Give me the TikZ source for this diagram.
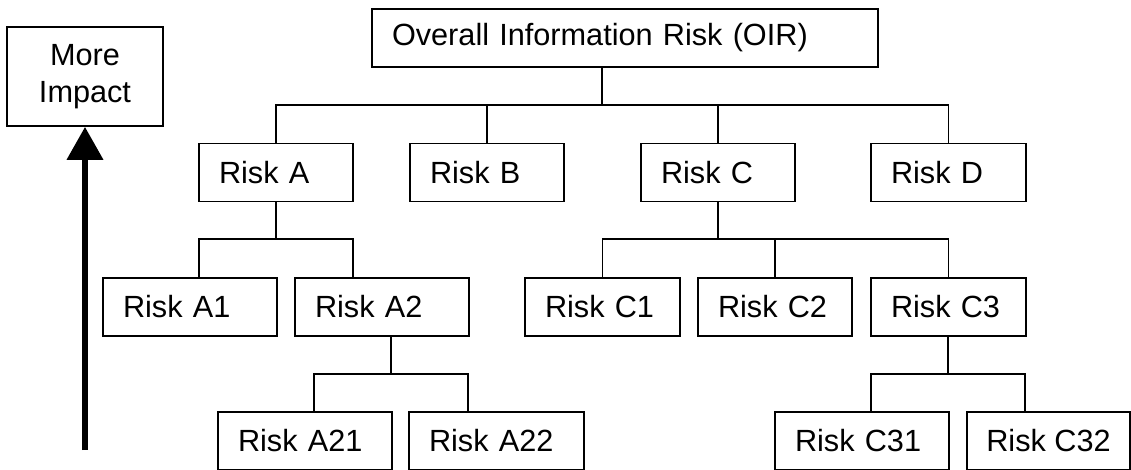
\documentclass[tikz,border=0pt]{standalone}
\usepackage{fontspec}
\setmainfont{Liberation Sans}
\usepackage{tikz}
\usetikzlibrary{%
  arrows.meta,%
  calc%
}

\begin{document}
\begin{tikzpicture}[x=0.75pt,y=-0.75pt,
    font=\fontsize{23}{27.75}\selectfont,
    riskbox/.style={draw,line width=1.2pt,minimum height=43.5pt,
      inner xsep=15pt,inner ysep=0pt,text width=#1,align=left},
    conn/.style={line width=1.2pt},
    impactarrow/.style={line width=5pt,
      -{Triangle[width=26.25pt,length=24.75pt]}}]
      \useasboundingbox (0,0) rectangle (1131,470);
      \node[riskbox=349.5pt] (oir) at (625,38) {Overall Information Risk (OIR)};
      \node[draw,line width=1.2pt,minimum width=117pt,minimum height=74.25pt,
        align=center] (impact) at (85,76.5) {More\\Impact};
      \node[riskbox=85.5pt] (riskA) at (276,172.5) {Risk A};
      \node[riskbox=85.5pt] (riskB) at (487,172.5) {Risk B};
      \node[riskbox=85.5pt] (riskC) at (718,172.5) {Risk C};
      \node[riskbox=86.25pt] (riskD) at (948.5,172.5) {Risk D};
      \node[riskbox=100.5pt] (riskA1) at (190,307) {Risk A1};
      \node[riskbox=100.5pt] (riskA2) at (382,307) {Risk A2};
      \node[riskbox=86.25pt] (riskC1) at (602.5,307) {Risk C1};
      \node[riskbox=85.5pt] (riskC2) at (775,307) {Risk C2};
      \node[riskbox=86.25pt] (riskC3) at (948.5,307) {Risk C3};
      \node[riskbox=100.5pt] (riskA21) at (305,441) {Risk A21};
      \node[riskbox=101.25pt] (riskA22) at (496.5,441) {Risk A22};
      \node[riskbox=100.5pt] (riskC31) at (862,441) {Risk C31};
      \node[draw,line width=1.2pt,minimum width=122.25pt,minimum height=43.5pt,
        inner ysep=0pt] (riskC32) at (1048.5,441) {Risk C32};
      \coordinate (oirbus) at (602,105);
      \coordinate (abus) at (276,239);
      \coordinate (a2bus) at (391,374);
      \coordinate (cbus) at (718,239);
      \coordinate (c3bus) at (948,374);
      \coordinate (arrowfoot) at (85,450);
      \draw[conn] (oir.south -| oirbus) -- (oirbus);
      \foreach \n in {riskA,riskB,riskC,riskD}
        \draw[conn] (oirbus) -| (\n.north);
      \draw[conn] (riskA.south) -- (abus);
      \draw[conn] (abus) -| ($(riskA1.north)+(9,0)$);
      \draw[conn] (abus) -| ($(riskA2.north)+(-29,0)$);
      \draw[conn] (riskA2.south -| a2bus) -- (a2bus);
      \draw[conn] (a2bus) -| ($(riskA21.north)+(9,0)$);
      \draw[conn] (a2bus) -| ($(riskA22.north)+(-28.5,0)$);
      \draw[conn] (riskC.south) -- (cbus);
      \foreach \n in {riskC1,riskC2,riskC3}
        \draw[conn] (cbus) -| (\n.north);
      \draw[conn] (riskC3.south -| c3bus) -- (c3bus);
      \draw[conn] (c3bus) -| ($(riskC31.north)+(9,0)$);
      \draw[conn] (c3bus) -| ($(riskC32.north)+(-23.5,0)$);
      \draw[impactarrow] (arrowfoot) -- (impact.south);
    \end{tikzpicture}
\end{document}
